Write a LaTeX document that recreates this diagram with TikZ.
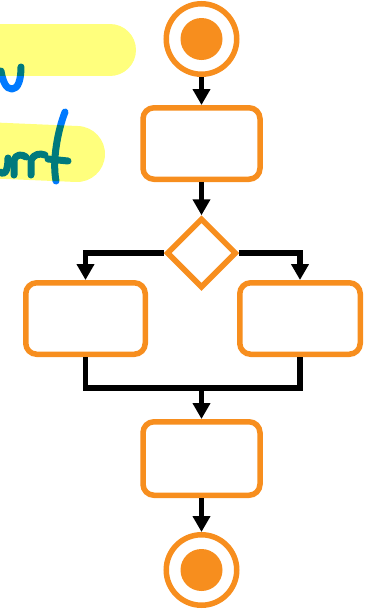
\documentclass[tikz,border=0pt]{standalone}
\usetikzlibrary{shapes.geometric,arrows.meta}
\definecolor{actorange}{RGB}{247,142,30}
\definecolor{hiyellow}{RGB}{255,255,125}
\definecolor{inkblue}{RGB}{0,122,255}
\tikzset{
  boxnode/.style={draw=actorange, line width=5.5pt, rounded corners=11pt, minimum width=117pt, minimum height=71.5pt, inner sep=0pt, fill=white},
  termnode/.style={circle, draw=actorange, line width=5.5pt, minimum size=70.5pt, inner sep=0pt, fill=white},
  decnode/.style={diamond, draw=actorange, line width=5.5pt, minimum width=70pt, minimum height=70pt, inner sep=0pt, aspect=1},
  flow/.style={draw=black, line width=5.5pt, line join=miter},
  arr/.style={flow, -{Triangle[width=17pt,length=16pt]}},
  ink/.style={draw=inkblue, line width=7pt, line cap=round, line join=round},
  hilite/.style={draw=hiyellow, line cap=round},
}
\begin{document}
\begin{tikzpicture}[x=1pt,y=-1pt]
\path[use as bounding box] (0,0) rectangle (377,611);
% handwritten ink
\draw[ink] (1,71) .. controls (3,82) and (6,89) .. (12,89) .. controls (18,89) and (21,80) .. (21,67);
\draw[ink] (0,172) .. controls (4,176) and (8,172) .. (8,158);
\draw[ink] (14,175) -- (14,160) .. controls (16,154) and (22,154) .. (26,157);
\draw[ink] (31,175) -- (31,160) .. controls (34,154) and (40,153) .. (45,155);
\draw[ink] (65,112) .. controls (58,130) and (52,160) .. (56,181);
\draw[ink] (48,159) -- (68,161);
% highlighter
\begin{scope}[blend mode=multiply]
\draw[hilite, line width=52pt] (-40,50) -- (110,50);
\draw[hilite, line width=56pt] (-40,149) -- (77,154);
\end{scope}
% nodes
\node[termnode] (s) at (201.5,39) {};
\fill[actorange] (s.center) circle (21);
\node[boxnode] (b1) at (201.5,143.5) {};
\node[decnode] (d) at (201.5,253) {};
\node[boxnode, minimum width=119.5pt] (l) at (85.5,318.5) {};
\node[boxnode, minimum width=120.5pt] (r) at (300,318.5) {};
\node[boxnode, minimum height=73.5pt] (b2) at (201.5,458.5) {};
\node[termnode] (e) at (201.5,570) {};
\fill[actorange] (e.center) circle (21);
\coordinate (j) at (201.5,388);
% connectors
\draw[arr] (s.south) -- (b1.north);
\draw[arr] (b1.south) -- (d.north);
\draw[arr] (d.west) -| (l.north);
\draw[arr] (d.east) -| (r.north);
\draw[flow] (l.south) |- (j);
\draw[flow] (r.south) |- (j);
\draw[arr] (j) -- (b2.north);
\draw[arr] (b2.south) -- (e.north);
\end{tikzpicture}
\end{document}
